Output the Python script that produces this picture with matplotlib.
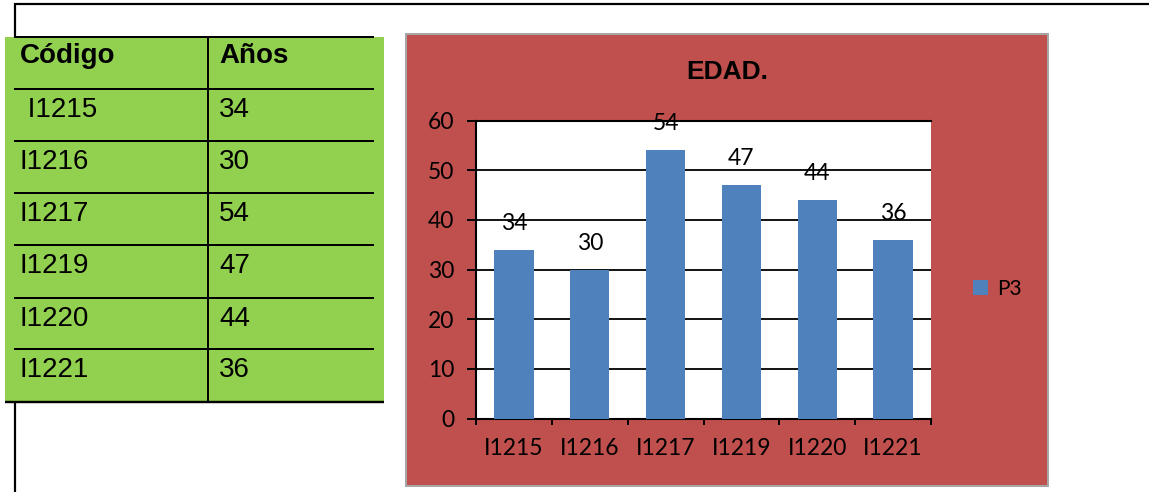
import matplotlib
matplotlib.use("Agg")
import matplotlib.pyplot as plt
from matplotlib.patches import Rectangle
from matplotlib.lines import Line2D

# Data
codes = ["I1215", "I1216", "I1217", "I1219", "I1220", "I1221"]
ages = [34, 30, 54, 47, 44, 36]
series_name = "P3"
chart_title = "EDAD."
table_header = ["Código", "Años"]
y_ticks = [0, 10, 20, 30, 40, 50, 60]

W, H = 1149, 492
fig = plt.figure(figsize=(W / 100, H / 100), dpi=100)
fig.patch.set_facecolor("white")


def fx(x):
    return x / W


def fy(y):
    return 1 - y / H


def hline(x0, x1, y, lw=2.0, color="black", z=5):
    fig.add_artist(Line2D([fx(x0), fx(x1)], [fy(y), fy(y)], transform=fig.transFigure,
                          color=color, lw=lw * 0.72, zorder=z, solid_capstyle="butt"))


def vline(x, y0, y1, lw=2.0, color="black", z=5):
    fig.add_artist(Line2D([fx(x), fx(x)], [fy(y0), fy(y1)], transform=fig.transFigure,
                          color=color, lw=lw * 0.72, zorder=z, solid_capstyle="butt"))


def rect(x0, y0, x1, y1, fc, ec="none", lw=0, z=1):
    fig.add_artist(Rectangle((fx(x0), fy(y1)), fx(x1) - fx(x0), fy(y0) - fy(y1),
                             transform=fig.transFigure, facecolor=fc, edgecolor=ec,
                             lw=lw * 0.72, zorder=z))


# Page frame lines (the table sits on top of the left rule)
hline(14, W, 4, lw=2.2, z=1)
vline(15, 3, H, lw=2.2, z=1)

# Table
TABLE_FONT = "Liberation Sans"
green = "#92D050"
rect(5, 37, 384, 402, green, z=2)
row_edges = [37, 89, 141, 193, 245, 298, 349, 402]
hline(14, 374, row_edges[0], z=6)
for yy in row_edges[1:-1]:
    hline(14, 374, yy, z=6)
hline(5, 384, row_edges[-1], lw=2.4, z=6)
vline(208, 37, 402, z=6)

fig.text(fx(20), fy(63), table_header[0], fontfamily=TABLE_FONT, fontweight="bold",
         fontsize=20, va="baseline", ha="left", zorder=7)
fig.text(fx(219), fy(63), table_header[1], fontfamily=TABLE_FONT, fontweight="bold",
         fontsize=20, va="baseline", ha="left", zorder=7)
for i, (c, a) in enumerate(zip(codes, ages)):
    base = row_edges[i + 1] + 28
    label = " " + c if i == 0 else c
    fig.text(fx(20), fy(base), label, fontfamily=TABLE_FONT, fontsize=20,
             va="baseline", ha="left", zorder=7)
    fig.text(fx(219), fy(base), str(a), fontfamily=TABLE_FONT, fontsize=20,
             va="baseline", ha="left", zorder=7)

# Chart area
red = "#C0504D"
blue = "#4F81BD"
rect(406, 34, 1048, 486, red, ec="#A6A6A6", lw=2, z=2)
fig.text(fx(727), fy(79), chart_title, fontfamily="Liberation Sans", fontweight="bold",
         fontsize=19, ha="center", va="baseline", zorder=7)

# Plot area
left, right, top, bottom = 476, 931, 120.7, 418.5
ax = fig.add_axes([fx(left), fy(bottom), fx(right) - fx(left), (bottom - top) / H])
ax.set_zorder(5)
ax.set_facecolor("white")

CHART_FONT = "Lato"
xs = list(range(len(codes)))
bars = ax.bar(xs, ages, width=0.52, color=blue, label=series_name, zorder=3)
for x, v in zip(xs, ages):
    ax.annotate(str(v), (x, v), xytext=(0, 14.4), textcoords="offset points",
                ha="center", va="baseline", fontfamily=CHART_FONT, fontsize=16.5,
                color="black", zorder=4, annotation_clip=False)

ax.set_xlim(-0.5, len(codes) - 0.5)
ax.set_ylim(0, 60)
ax.set_yticks(y_ticks)
ax.set_yticklabels([str(t) for t in y_ticks], fontfamily=CHART_FONT, fontsize=16.5)
ax.set_xticks(xs)
ax.set_xticklabels(codes, fontfamily=CHART_FONT, fontsize=16.5)
ax.set_xticks([x - 0.5 for x in range(len(codes) + 1)], minor=True)
ax.tick_params(axis="x", which="major", length=0, pad=14)
ax.tick_params(axis="x", which="minor", direction="out", length=4.3, width=1.4, color="black")
ax.tick_params(axis="y", direction="out", length=6.5, width=1.4, color="black", pad=9)

ax.yaxis.grid(True, color="black", lw=1.3)
ax.set_axisbelow(True)
for s in ["left", "bottom", "top"]:
    ax.spines[s].set_color("black")
    ax.spines[s].set_linewidth(1.5)
ax.spines["right"].set_visible(False)

leg = ax.legend(handles=[bars], loc="center left",
                bbox_to_anchor=(fx(973), fy(289)), bbox_transform=fig.transFigure,
                frameon=False, borderpad=0, borderaxespad=0,
                handlelength=0.72, handleheight=0.72, handletextpad=0.45,
                prop={"family": CHART_FONT, "size": 15})

fig.savefig("out.png", dpi=100, facecolor="white")
